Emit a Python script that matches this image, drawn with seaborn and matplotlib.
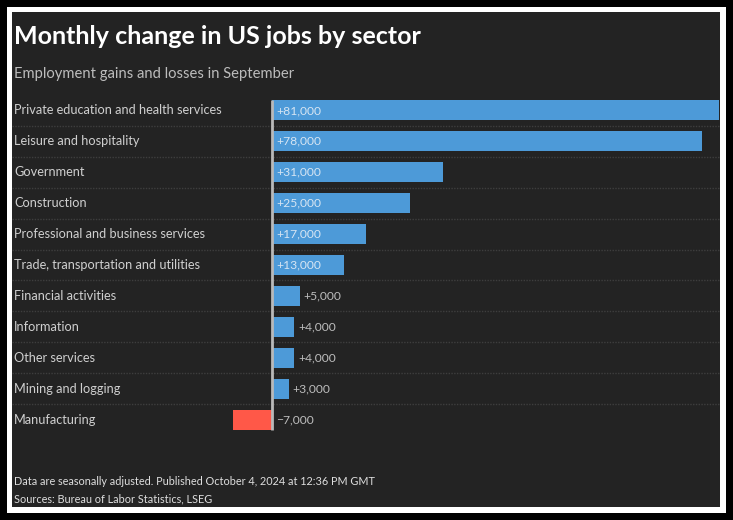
import matplotlib
matplotlib.use("Agg")
import matplotlib.pyplot as plt
import seaborn as sns
import pandas as pd
from matplotlib.patches import Rectangle

# ---------------- data ----------------
sectors = [
    "Private education and health services",
    "Leisure and hospitality",
    "Government",
    "Construction",
    "Professional and business services",
    "Trade, transportation and utilities",
    "Financial activities",
    "Information",
    "Other services",
    "Mining and logging",
    "Manufacturing",
]
changes = [81000, 78000, 31000, 25000, 17000, 13000, 5000, 4000, 4000, 3000, -7000]
value_labels = ["+81,000", "+78,000", "+31,000", "+25,000", "+17,000", "+13,000",
                "+5,000", "+4,000", "+4,000", "+3,000", "\u22127,000"]

title = "Monthly change in US jobs by sector"
subtitle = "Employment gains and losses in September"
footer1 = "Data are seasonally adjusted. Published October 4, 2024 at 12:36 PM GMT"
footer2 = "Sources: Bureau of Labor Statistics, LSEG"

# ---------------- style ----------------
sns.set_theme(style="white")
FONT = ["Lato", "DejaVu Sans"]
plt.rcParams["font.family"] = FONT

BG = "#232323"
BLUE = "#4d9ad8"
RED = "#ff5848"
LABEL_C = "#cfcfcf"

W, H = 733, 520
fig = plt.figure(figsize=(W / 100, H / 100), dpi=100, facecolor="black")


def fx(px):
    return px / W


def fy(py):
    return 1 - py / H


fig.patches.append(Rectangle((fx(7), fy(513)), fx(726 - 7), (513 - 7) / H,
                             transform=fig.transFigure, facecolor="white",
                             edgecolor="none", zorder=-2))
fig.patches.append(Rectangle((fx(12), fy(507)), fx(720 - 12), (507 - 12) / H,
                             transform=fig.transFigure, facecolor=BG,
                             edgecolor="none", zorder=-1))

# texts
fig.text(fx(14), fy(44), title, color="white", fontsize=18, fontweight="bold",
         ha="left", va="baseline")
fig.text(fx(14), fy(78), subtitle, color="#bdbdbd", fontsize=10.65,
         ha="left", va="baseline")
fig.text(fx(14), fy(485), footer1, color="#dedede", fontsize=7.8,
         ha="left", va="baseline")
fig.text(fx(14), fy(502), footer2, color="#dedede", fontsize=7.8,
         ha="left", va="baseline")

# axes
ax_left, ax_right, ax_top, ax_bot = 12, 720, 95, 435
ax = fig.add_axes([fx(ax_left), fy(ax_bot), fx(ax_right - ax_left), (ax_bot - ax_top) / H])
ax.set_facecolor("none")
ax.set_zorder(2)

df = pd.DataFrame({"sector": sectors, "change": changes})
df["sign"] = ["pos" if v >= 0 else "neg" for v in changes]

bar_w = 0.65
sns.barplot(data=df, y="sector", x="change", hue="sign",
            palette={"pos": BLUE, "neg": RED}, orient="h", width=bar_w,
            dodge=False, legend=False, ax=ax, saturation=1, zorder=2,
            linewidth=0, edgecolor="none")

zero_px, max_px = 272, 719
scale = (max_px - zero_px) / max(changes)
ax.set_xlim(-(zero_px - ax_left) / scale, (ax_right - zero_px) / scale)
ax.set_ylim(len(sectors) - 0.5, -0.5)
for s in ax.spines.values():
    s.set_visible(False)
ax.set_xticks([])
ax.set_yticks([])
ax.set_xlabel("")
ax.set_ylabel("")

# separators
for i in range(len(sectors) - 1):
    ax.axhline(i + 0.5, color="#3e3e3e", lw=1, ls=(0, (1, 1)), zorder=1)

# zero line
ax.vlines(0, -bar_w / 2, len(sectors) - 1 + bar_w / 2, color="#b9b9b9", lw=2, zorder=3)

# labels
ytrans = ax.get_yaxis_transform()
for i, (name, v, lab) in enumerate(zip(sectors, changes, value_labels)):
    ax.text((14 - ax_left) / (ax_right - ax_left), i, name, transform=ytrans,
            color=LABEL_C, fontsize=9.2, ha="left", va="center")
    if v >= 10000:
        ax.annotate(lab, (0, i), xytext=(3, 0), textcoords="offset points",
                    color="#d6e5f3", fontsize=8.7, ha="left", va="center", zorder=4)
    elif v >= 0:
        ax.annotate(lab, (v, i), xytext=(3, 0), textcoords="offset points",
                    color="#bdbdbd", fontsize=8.7, ha="left", va="center", zorder=4)
    else:
        ax.annotate(lab, (0, i), xytext=(3, 0), textcoords="offset points",
                    color="#bdbdbd", fontsize=8.7, ha="left", va="center", zorder=4)

fig.savefig("out.png", dpi=100, facecolor="black")
